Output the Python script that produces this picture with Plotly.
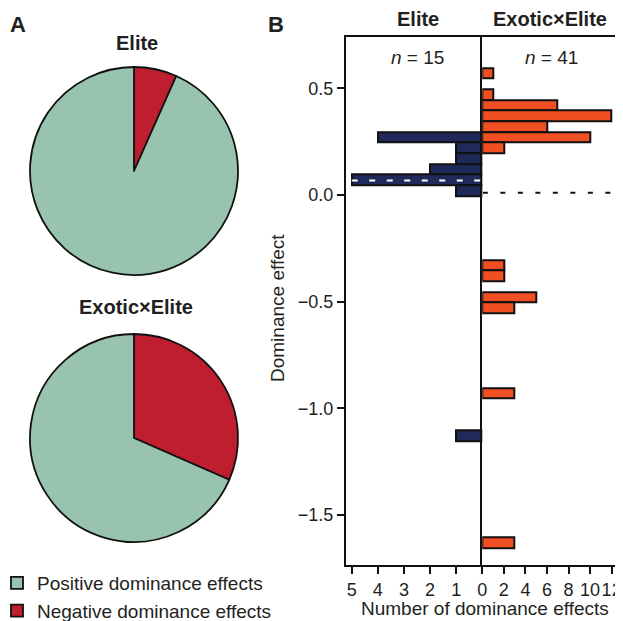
import plotly.graph_objects as go

# ---- data ----
pie_labels = ["Negative dominance effects", "Positive dominance effects"]
elite_pie = [1, 14]
exotic_pie = [18, 39]

elite_bins = [0.27, 0.22, 0.17, 0.12, 0.07, 0.02, -1.13]
elite_counts = [4, 1, 1, 2, 5, 1, 1]

exotic_bins = [0.57, 0.47, 0.42, 0.37, 0.32, 0.27, 0.22,
               -0.33, -0.38, -0.48, -0.53, -0.93, -1.63]
exotic_counts = [1, 1, 7, 12, 6, 10, 2, 2, 2, 5, 3, 3, 3]

elite_mean = 0.068
exotic_mean = 0.011

left_ticks = [1, 2, 3, 4, 5]
right_ticks = [0, 2, 4, 6, 8, 10, 12]
y_ticks = [0.5, 0.0, -0.5, -1.0, -1.5]

# ---- styling ----
# page body has an 8px default margin: the figure is drawn from (8, 8)
OFF = 8
W, H = 623 - OFF, 621 - OFF
FONT = "Liberation Sans, Arial, sans-serif"
TXT = "#231F20"
GREEN = "#98C4AF"
RED = "#BE1E2D"
NAVY = "#1F2A5A"
ORANGE = "#F04E23"
FS = 19
TFS = 18


def px(x):
    return (x - OFF) / W


def py(y):
    return 1 - (y - OFF) / H


fig = go.Figure()

for vals, (ytop, ybot) in ((elite_pie, (67, 275)), (exotic_pie, (334, 542))):
    fig.add_trace(go.Pie(
        labels=pie_labels, values=vals, sort=False, direction="clockwise",
        rotation=0, textinfo="none", hoverinfo="label+value",
        marker=dict(colors=[RED, GREEN], line=dict(color="#111", width=1.8)),
        domain=dict(x=[px(30), px(238)], y=[py(ybot), py(ytop)]),
        showlegend=True,
    ))

fig.add_trace(go.Bar(
    y=elite_bins, x=elite_counts, orientation="h", width=0.05,
    marker=dict(color=NAVY, line=dict(color="#111", width=2)),
    xaxis="x", yaxis="y", showlegend=False,
))
fig.add_trace(go.Bar(
    y=exotic_bins, x=exotic_counts, orientation="h", width=0.05,
    marker=dict(color=ORANGE, line=dict(color="#111", width=2)),
    xaxis="x2", yaxis="y2", showlegend=False,
))

xl, xm, xr = px(346), px(482.3), px(616.7)
yb, yt = py(565), py(37.3)
yrange = [-1.734, 0.739]

axis_common = dict(
    showgrid=False, zeroline=False, showline=True, linecolor="#111", linewidth=2,
    ticks="outside", ticklen=7, tickwidth=2, tickcolor="#111", tickangle=0,
    tickfont=dict(size=TFS, color=TXT, family=FONT),
)

fig.update_layout(
    width=W, height=H,
    margin=dict(l=0, r=0, t=0, b=0, autoexpand=False),
    paper_bgcolor="white", plot_bgcolor="white",
    font=dict(family=FONT, size=FS, color=TXT),
    bargap=0,
    xaxis=dict(domain=[xl, xm], range=[5.22, 0], anchor="y", mirror=True,
               tickvals=left_ticks, ticktext=[str(v) for v in left_ticks],
               **axis_common),
    xaxis2=dict(domain=[xm, xr], range=[0, 12.47], anchor="y2", mirror=True,
                tickvals=right_ticks, ticktext=[str(v) for v in right_ticks],
                **axis_common),
    yaxis=dict(domain=[yb, yt], range=yrange, anchor="x",
               tickvals=y_ticks, tickformat=".1f", **axis_common),
    yaxis2=dict(domain=[yb, yt], range=yrange, anchor="x2", matches="y",
                showgrid=False, zeroline=False, showline=True, mirror=True,
                linecolor="#111", linewidth=2, showticklabels=False, ticks=""),
    legend=dict(x=px(-3), xanchor="left", y=py(564), yanchor="top",
                font=dict(size=FS, color=TXT, family=FONT),
                traceorder="reversed", bgcolor="rgba(0,0,0,0)"),
)

# mean lines
fig.add_shape(type="line", xref="x", yref="y", x0=5, x1=0.08,
              y0=elite_mean, y1=elite_mean,
              line=dict(color="white", width=2, dash="6px,11.5px"))
fig.add_shape(type="line", xref="x2", yref="y2", x0=0.05, x1=12,
              y0=exotic_mean, y1=exotic_mean,
              line=dict(color="#111", width=2, dash="5px,12.5px"))

ann = []
def text(x, y, s, size=FS, bold=False):
    ann.append(dict(x=px(x), y=py(y), xref="paper", yref="paper", text=(f"<b>{s}</b>" if bold else s),
                    showarrow=False, xanchor="center", yanchor="middle",
                    font=dict(size=size, color=TXT, family=FONT)))

text(18, 24, "A", size=22, bold=True)
text(276, 24, "B", size=22, bold=True)
text(137, 43, "Elite", size=20, bold=True)
text(136, 307, "Exotic×Elite", size=20, bold=True)
text(418, 19, "Elite", size=20, bold=True)
text(550, 19, "Exotic×Elite", size=20, bold=True)
text(417, 58, "<i>n</i> = 15")
text(551, 58, "<i>n</i> = 41")
text(485, 608, "Number of dominance effects")
ann.append(dict(x=px(277), y=py(308), xref="paper", yref="paper", text="Dominance effect",
                showarrow=False, textangle=-90, xanchor="center", yanchor="middle",
                font=dict(size=FS, color=TXT, family=FONT)))
fig.update_layout(annotations=ann)

fig.write_html("out.html")
